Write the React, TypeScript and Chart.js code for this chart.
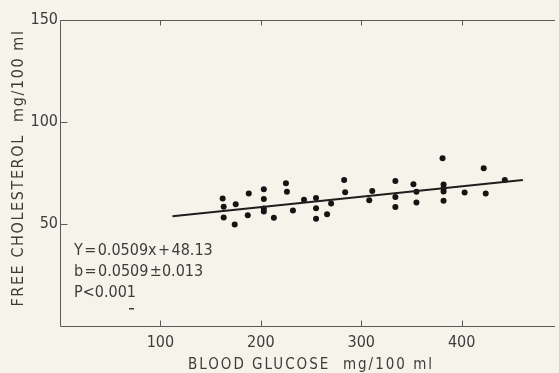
import { useEffect, useRef } from "react";
import { Chart, registerables } from "chart.js";

Chart.register(...registerables);

// Blood glucose (mg/100 ml) against free cholesterol (mg/100 ml), one entry per subject
const glucose = [
  162, 163, 175, 163, 174, 188, 187, 203, 203, 203, 203, 213, 225, 226, 232, 243,
  255, 255, 255, 266, 270, 283, 284, 308, 311, 334, 334, 334, 352, 355, 355, 381,
  382, 382, 382, 382, 403, 422, 424, 443,
];
const cholesterol = [
  62.5, 58.5, 59.7, 53.2, 49.8, 65, 54.3, 67, 62.2, 57.6, 56.1, 53.1, 70, 65.8, 56.6, 61.9,
  62.8, 57.7, 52.6, 54.8, 60.1, 71.6, 65.6, 61.6, 66.2, 71.1, 63.2, 58.3, 69.5, 65.8, 60.5, 82.2,
  69.4, 67.5, 65.9, 61.4, 65.4, 77.3, 65, 71.6,
];

// Regression Y = slope * x + intercept, drawn over this glucose range
const slope = 0.0509;
const intercept = 48.13;
const slopeError = 0.013;
const fitRange = [112, 461];

const xTicks = [100, 200, 300, 400];
const yTicks = [50, 100, 150];

const xTitle = "BLOOD GLUCOSE  mg/100 ml";
const yTitle = "FREE CHOLESTEROL  mg/100 ml";
const HS = "\u200a";
const statLines = [
  `Y${HS}=${HS}${slope}x${HS}+${HS}${intercept}`,
  `b${HS}=${HS}${slope}${HS}±${slopeError}`,
  "P<0.001",
];

const PAPER = "#f6f4ea";
const INK = "#3c3c3c";
const AXIS = "#5a5a5a";
const FONT = "'DejaVu Sans Condensed', 'Liberation Sans Narrow', 'Liberation Sans', sans-serif";

const framePlugin = {
  id: "frame",
  afterDatasetsDraw(chart: any) {
    const { ctx, chartArea: a, scales } = chart;
    const xs = scales.x;
    const ys = scales.y;
    ctx.save();
    ctx.strokeStyle = AXIS;
    ctx.lineWidth = 1;
    ctx.beginPath();
    const L = Math.round(a.left) + 0.5;
    const T = Math.round(a.top) + 0.5;
    const B = Math.round(a.bottom) + 0.5;
    ctx.moveTo(a.right, T);
    ctx.lineTo(L, T);
    ctx.lineTo(L, B);
    ctx.lineTo(a.right, B);
    xTicks.forEach((v) => {
      const px = Math.round(xs.getPixelForValue(v)) + 0.5;
      ctx.moveTo(px, T);
      ctx.lineTo(px, T + 5);
      ctx.moveTo(px, B);
      ctx.lineTo(px, B - 6);
    });
    yTicks.forEach((v) => {
      const py = Math.round(ys.getPixelForValue(v)) + 0.5;
      ctx.moveTo(L, py);
      ctx.lineTo(L + 7, py);
    });
    ctx.stroke();

    ctx.fillStyle = INK;
    ctx.font = `16px ${FONT}`;
    ctx.textBaseline = "middle";
    ctx.textAlign = "center";
    xTicks.forEach((v) => {
      ctx.fillText(String(v), xs.getPixelForValue(v), a.bottom + 17);
    });
    ctx.textAlign = "right";
    yTicks.forEach((v) => {
      ctx.fillText(String(v), a.left - 2, ys.getPixelForValue(v));
    });

    // axis titles, widely tracked
    ctx.textAlign = "center";
    ctx.font = `15px ${FONT}`;
    ctx.letterSpacing = "2px";
    ctx.fillText(xTitle, 311, a.bottom + 39);
    ctx.font = `16px ${FONT}`;
    ctx.letterSpacing = "1.6px";
    ctx.save();
    ctx.translate(19, 168);
    ctx.rotate(-Math.PI / 2);
    ctx.fillText(yTitle, 0, 0);
    ctx.restore();
    ctx.letterSpacing = "0px";

    // regression statistics
    ctx.font = `16px ${FONT}`;
    ctx.textAlign = "left";
    statLines.forEach((s, i) => {
      ctx.fillText(s, 74, 251 + i * 21);
    });
    ctx.fillRect(129, 308, 5, 1.5);
    ctx.restore();
  },
};

export default function App() {
  const ref = useRef<HTMLCanvasElement | null>(null);

  useEffect(() => {
    document.body.style.margin = "0";
    document.body.style.background = PAPER;
    const canvas = ref.current;
    if (!canvas) return;
    const chart = new Chart(canvas, {
      type: "scatter",
      data: {
        datasets: [
          {
            label: "fit",
            type: "line",
            data: fitRange.map((x) => ({ x, y: slope * x + intercept })),
            borderColor: "#1e1e1e",
            borderWidth: 2,
            pointRadius: 0,
            fill: false,
          },
          {
            label: "subjects",
            data: glucose.map((x, i) => ({ x, y: cholesterol[i] })),
            backgroundColor: "#141414",
            borderWidth: 0,
            pointRadius: 3,
          },
        ],
      },
      options: {
        animation: false,
        responsive: false,
        devicePixelRatio: 1,
        layout: { padding: { left: 60, top: 20, right: 0, bottom: 47 } },
        plugins: { legend: { display: false }, tooltip: { enabled: false } },
        scales: {
          x: { type: "linear", min: 0, max: 493, display: false },
          y: { type: "linear", min: 0, max: 150, display: false },
        },
      },
      plugins: [framePlugin],
    });
    return () => chart.destroy();
  }, []);

  return (
    <div style={{ position: "fixed", left: 0, top: 0, width: 559, height: 373, background: PAPER }}>
      <canvas ref={ref} width={559} height={373} style={{ display: "block" }} />
    </div>
  );
}
